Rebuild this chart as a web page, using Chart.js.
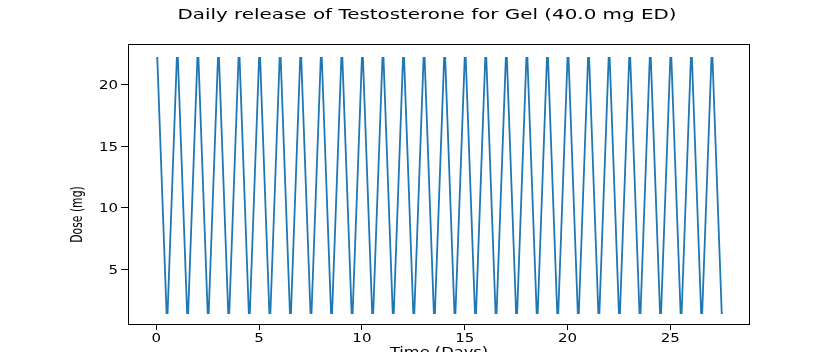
<!DOCTYPE html>
<html>
<head>
<meta charset="utf-8">
<script src="https://cdn.jsdelivr.net/npm/chart.js@4/dist/chart.umd.min.js"></script>
<style>
  html, body { margin: 0; padding: 0; background: #fff; }
  #wrap { width: 840px; height: 352px; }
</style>
</head>
<body>
<div id="wrap"><canvas id="doseChart" width="840" height="352"></canvas></div>
<script>
const days = [
  0, 0.05, 0.5, 0.55, 1, 1.05, 1.5, 1.55, 2, 2.05, 2.5, 2.55,
  3, 3.05, 3.5, 3.55, 4, 4.05, 4.5, 4.55, 5, 5.05, 5.5, 5.55,
  6, 6.05, 6.5, 6.55, 7, 7.05, 7.5, 7.55, 8, 8.05, 8.5, 8.55,
  9, 9.05, 9.5, 9.55, 10, 10.05, 10.5, 10.55, 11, 11.05, 11.5, 11.55,
  12, 12.05, 12.5, 12.55, 13, 13.05, 13.5, 13.55, 14, 14.05, 14.5, 14.55,
  15, 15.05, 15.5, 15.55, 16, 16.05, 16.5, 16.55, 17, 17.05, 17.5, 17.55,
  18, 18.05, 18.5, 18.55, 19, 19.05, 19.5, 19.55, 20, 20.05, 20.5, 20.55,
  21, 21.05, 21.5, 21.55, 22, 22.05, 22.5, 22.55, 23, 23.05, 23.5, 23.55,
  24, 24.05, 24.5, 24.55, 25, 25.05, 25.5, 25.55, 26, 26.05, 26.5, 26.55,
  27, 27.05, 27.5, 27.55
];

const doses = [
  22.2, 22.2, 1.4, 1.4, 22.2, 22.2, 1.4, 1.4, 22.2, 22.2, 1.4, 1.4,
  22.2, 22.2, 1.4, 1.4, 22.2, 22.2, 1.4, 1.4, 22.2, 22.2, 1.4, 1.4,
  22.2, 22.2, 1.4, 1.4, 22.2, 22.2, 1.4, 1.4, 22.2, 22.2, 1.4, 1.4,
  22.2, 22.2, 1.4, 1.4, 22.2, 22.2, 1.4, 1.4, 22.2, 22.2, 1.4, 1.4,
  22.2, 22.2, 1.4, 1.4, 22.2, 22.2, 1.4, 1.4, 22.2, 22.2, 1.4, 1.4,
  22.2, 22.2, 1.4, 1.4, 22.2, 22.2, 1.4, 1.4, 22.2, 22.2, 1.4, 1.4,
  22.2, 22.2, 1.4, 1.4, 22.2, 22.2, 1.4, 1.4, 22.2, 22.2, 1.4, 1.4,
  22.2, 22.2, 1.4, 1.4, 22.2, 22.2, 1.4, 1.4, 22.2, 22.2, 1.4, 1.4,
  22.2, 22.2, 1.4, 1.4, 22.2, 22.2, 1.4, 1.4, 22.2, 22.2, 1.4, 1.4,
  22.2, 22.2, 1.4, 1.4
];

const xTicks = [0, 5, 10, 15, 20, 25];
const yTicks = [5, 10, 15, 20];

const titleText = "Daily release of Testosterone for Gel (40.0 mg ED)";
const xTitle = "Time (Days)";
const yTitle = "Dose (mg)";

const points = days.map((d, i) => ({ x: d, y: doses[i] }));

// the reference image is stretched sideways, so text is drawn widened
function wideText(ctx, text, x, y, size, sx, align, baseline) {
  ctx.save();
  ctx.translate(x, y);
  ctx.scale(sx, 1);
  ctx.font = size + "px 'DejaVu Sans'";
  ctx.textAlign = align;
  ctx.textBaseline = baseline;
  ctx.fillText(text, 0, 0);
  ctx.restore();
}

const textPlugin = {
  id: "texts",
  afterDraw(chart) {
    const { ctx, chartArea } = chart;
    const xs = chart.scales.x;
    const ys = chart.scales.y;
    ctx.save();
    ctx.strokeStyle = "#000";
    ctx.lineWidth = 1;
    ctx.strokeRect(chartArea.left + 0.5, chartArea.top + 0.5,
      chartArea.right - chartArea.left - 1, chartArea.bottom - chartArea.top - 1);
    ctx.fillStyle = "#000";

    wideText(ctx, titleText, 427, 18.5, 14, 1.42, "center", "alphabetic");

    xTicks.forEach((v) => {
      wideText(ctx, String(v), xs.getPixelForValue(v), 342, 12, 1.25, "center", "alphabetic");
    });
    yTicks.forEach((v) => {
      wideText(ctx, String(v), 118, ys.getPixelForValue(v) + 4.5, 12, 1.25, "right", "alphabetic");
    });

    wideText(ctx, xTitle, (chartArea.left + chartArea.right) / 2, 356, 13, 1.25, "center", "alphabetic");

    // y title: rotated, glyphs widened across the axis like the rest
    ctx.translate(78, (chartArea.top + chartArea.bottom) / 2 + 30);
    ctx.scale(1.3, 1);
    ctx.rotate(-Math.PI / 2);
    ctx.font = "12px 'DejaVu Sans Condensed', 'DejaVu Sans'";
    ctx.textAlign = "center";
    ctx.textBaseline = "middle";
    ctx.fillText(yTitle, 0, 0);
    ctx.restore();
  }
};

const ctx = document.getElementById("doseChart");

new Chart(ctx, {
  type: "scatter",
  data: {
    datasets: [
      {
        label: "Dose",
        data: points,
        showLine: true,
        borderColor: "#1f77b4",
        backgroundColor: "#1f77b4",
        borderWidth: 1.8,
        pointRadius: 0,
        tension: 0,
      },
    ],
  },
  options: {
    responsive: false,
    animation: false,
    layout: { padding: { left: 0, right: 90, top: 44, bottom: 0 } },
    plugins: {
      legend: { display: false },
      tooltip: { enabled: false },
      title: { display: false },
    },
    scales: {
      x: {
        type: "linear",
        min: -1.375,
        max: 28.875,
        afterBuildTicks: (scale) => {
          scale.ticks = xTicks.map((v) => ({ value: v }));
        },
        afterFit: (scale) => {
          scale.height = 27;
        },
        border: { display: false },
        grid: { drawOnChartArea: false, tickLength: 5, color: "#000" },
        ticks: { display: false },
      },
      y: {
        type: "linear",
        min: 0.44,
        max: 23.34,
        afterBuildTicks: (scale) => {
          scale.ticks = yTicks.map((v) => ({ value: v }));
        },
        afterFit: (scale) => {
          scale.width = 128;
        },
        border: { display: false },
        grid: { drawOnChartArea: false, tickLength: 7, color: "#000" },
        ticks: { display: false },
      },
    },
  },
  plugins: [textPlugin],
});
</script>
</body>
</html>
